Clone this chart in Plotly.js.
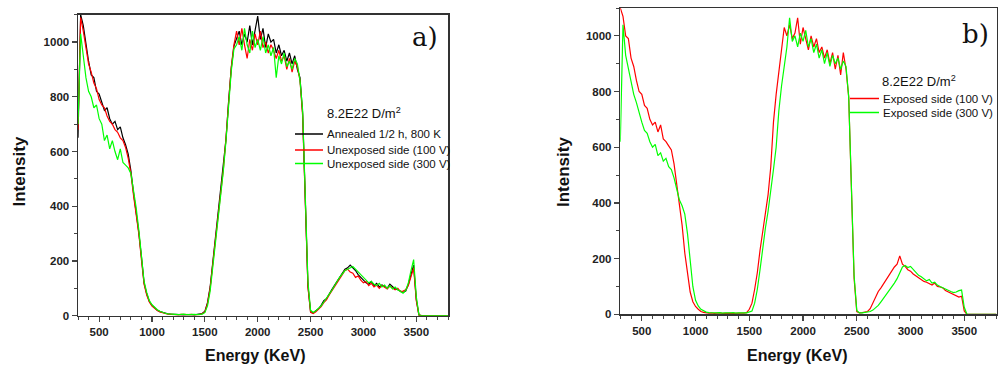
<!DOCTYPE html>
<html>
<head>
<meta charset="utf-8">
<script src="https://cdn.plot.ly/plotly-3.0.1.min.js"></script>
<style>html,body{margin:0;padding:0;background:#fff;}#chart{width:998px;height:369px;}</style>
</head>
<body>
<div id="chart"></div>
<script>
// Energy grid (keV)
const energy = [300,325,350,375,400,425,450,475,500,525,550,575,600,625,650,675,700,725,750,775,800,825,850,875,900,925,950,975,1000,1025,1050,1075,1100,1125,1150,1175,1200,1225,1250,1275,1300,1325,1350,1375,1400,1425,1450,1475,1500,1525,1550,1575,1600,1625,1650,1675,1700,1725,1750,1775,1800,1825,1850,1875,1900,1925,1950,1975,2000,2025,2050,2075,2100,2125,2150,2175,2200,2225,2250,2275,2300,2325,2350,2375,2400,2425,2450,2475,2500,2525,2550,2575,2600,2625,2650,2675,2700,2725,2750,2775,2800,2825,2850,2875,2900,2925,2950,2975,3000,3025,3050,3075,3100,3125,3150,3175,3200,3225,3250,3275,3300,3325,3350,3375,3400,3425,3450,3475,3500,3525,3550,3575,3600,3625,3650,3675,3700,3725,3750,3775,3800];

// Panel a)
const annealed = [
 650,1100,1060,990, 930,880,870,820, 810,780,750,760, 720,700,710,680, 690,650,625,590,
 530,450,385,305, 215,120,80,52, 38,28,20,15, 12,9,7,6, 5,4,5,4, 3,4,5,4,
 3,4,5,8, 16,48,105,195, 285,355,445,535, 645,785,905,985, 1010,1040,990,1030,
 1000,1060,990,1040, 1095,1010,1050,980, 1030,1000,1010,960, 990,950,970,930, 960,920,950,900,
 870,740,380,110, 15,10,18,25, 38,55,62,80, 95,110,125,145, 160,170,175,185,
 175,165,150,140, 130,120,115,125, 110,118,105,112, 108,100,115,105, 98,95,90,85,
 90,115,150,185, 60,2,0,0, 0,0,0,0, 0,0,0,0, 0];
const unexp100 = [
 680,1090,1040,970, 920,890,850,830, 790,770,760,730, 710,700,680,670, 650,640,615,575,
 520,440,375,300, 205,115,75,50, 35,26,19,14, 10,8,6,5, 5,4,3,5, 4,3,4,5,
 3,4,4,7, 14,44,100,190, 280,350,440,535, 650,790,910,990, 1040,990,1050,990,
 940,1010,970,1030, 990,1040,980,1000, 960,990,970,940, 970,930,950,900, 940,890,930,910,
 860,730,370,105, 12,8,14,22, 33,48,58,75, 90,105,120,140, 150,165,170,160,
 155,140,145,130, 120,125,110,118, 105,112,100,110, 105,98,108,100, 95,100,88,90,
 95,110,145,175, 55,2,0,0, 0,0,0,0, 0,0,0,0, 0];
const unexp300 = [
 700,1030,950,870, 820,800,760,770, 720,700,640,660, 610,640,600,570, 610,560,550,540,
 520,465,395,315, 220,125,85,55, 40,30,22,16, 12,9,7,6, 6,5,4,5, 6,4,5,4,
 5,4,5,6, 11,36,90,180, 275,345,435,530, 640,775,895,975, 990,1020,970,1050,
 990,960,1040,980, 1010,970,1020,960, 990,950,980,870, 950,920,960,910, 930,900,940,920,
 860,750,390,125, 20,12,18,26, 36,50,62,78, 92,110,125,140, 155,165,170,175,
 180,170,160,150, 140,130,120,125, 115,110,118,105, 112,100,110,98, 105,95,88,82,
 92,120,165,205, 70,3,0,0, 0,0,0,0, 0,0,0,0, 0];

// Panel b)
const exp100 = [
 1100,1070,1000,990, 920,890,840,800, 790,750,740,700, 680,690,655,680, 630,620,605,590,
 540,470,390,320, 220,150,80,45, 28,18,10,7, 5,4,5,3, 4,5,3,4, 5,4,3,4,
 5,4,4,6, 18,40,90,150, 230,300,370,430, 530,690,790,870, 940,1030,1000,1040,
 990,1010,1065,970, 1030,990,950,1000, 960,990,940,960, 920,950,900,940, 880,930,860,940,
 880,780,450,130, 10,5,6,8, 10,20,40,65, 82,95,110,123, 140,155,170,180,
 210,180,172,160, 155,145,138,130, 125,118,115,110, 105,112,100,98, 95,85,80,75,
 70,68,62,65, 12,0,0,0, 0,0,0,0, 0,0,0,0, 0];
const exp300 = [
 620,1040,930,880, 830,790,760,720, 690,660,650,620, 600,610,570,580, 550,560,530,520,
 490,450,410,390, 360,290,190,100, 50,30,18,12, 8,6,5,4, 5,6,4,5, 4,5,6,4,
 5,4,5,5, 8,12,40,90, 160,240,310,370, 440,520,600,730, 820,890,960,1065,
 980,1000,960,1010, 980,1020,960,990, 940,970,920,950, 900,940,890,930, 900,920,880,910,
 890,780,460,140, 14,5,5,6, 8,10,15,22, 32,45,58,70, 85,100,112,128,
 150,170,175,168, 172,160,150,140, 135,128,120,125, 112,115,105,100, 95,92,88,82,
 78,80,85,87, 25,0,0,0, 0,0,0,0, 0,0,0,0, 0];

const xTickVals = [500,1000,1500,2000,2500,3000,3500];
const yTickVals = [0,200,400,600,800,1000];

const W = 998, H = 369;
const px = v => v / W;
const py = v => 1 - v / H;

const lw = 1.2;
const traces = [
  {x: energy, y: annealed, xaxis:'x', yaxis:'y', mode:'lines', line:{color:'#000000', width:lw}},
  {x: energy, y: unexp100, xaxis:'x', yaxis:'y', mode:'lines', line:{color:'#ff0000', width:lw}},
  {x: energy, y: unexp300, xaxis:'x', yaxis:'y', mode:'lines', line:{color:'#00ff00', width:lw}},
  {x: energy, y: exp100, xaxis:'x2', yaxis:'y2', mode:'lines', line:{color:'#ff0000', width:lw}},
  {x: energy, y: exp300, xaxis:'x2', yaxis:'y2', mode:'lines', line:{color:'#00ff00', width:lw}}
];

const SANS = 'Arial, Liberation Sans, Helvetica, sans-serif';
const tickFont = {family:SANS, size:11.5, weight:'bold', color:'#222'};
function xAxis(dom, anchor){
  return {domain:dom, anchor:anchor, range:[300,3800], tickmode:'array', tickvals:xTickVals,
    ticks:'outside', ticklen:5, tickwidth:1.2, tickcolor:'#444',
    showline:true, linecolor:'#333', linewidth:1.5, mirror:true,
    showgrid:false, zeroline:false, tickfont:tickFont,
    minor:{ticks:'outside', ticklen:3, tickwidth:1, tickcolor:'#444', dtick:100, tick0:0, showgrid:false}};
}
function yAxis(dom, anchor){
  return {domain:dom, anchor:anchor, range:[0,1100], tickmode:'array', tickvals:yTickVals,
    ticks:'outside', ticklen:5, tickwidth:1.2, tickcolor:'#444',
    showline:true, linecolor:'#333', linewidth:1.5, mirror:true,
    showgrid:false, zeroline:false, tickfont:tickFont,
    minor:{ticks:'outside', ticklen:3, tickwidth:1, tickcolor:'#444', dtick:100, tick0:0, showgrid:false}};
}

const titleFont = {family:SANS, weight:'bold', color:'#111'};
const legFont = {family:SANS, size:11.5, color:'#111'};
const legTitleFont = {family:SANS, size:13, color:'#111'};
const panelFont = {family:'DejaVu Serif, serif', size:26, color:'#111'};

function ann(text, x, y, font, extra){
  return Object.assign({text:text, x:px(x), y:py(y), xref:'paper', yref:'paper', showarrow:false,
    font:font, xanchor:'center', yanchor:'middle', borderpad:0}, extra||{});
}
function seg(x0, x1, y, color){
  return {type:'line', xref:'paper', yref:'paper', x0:px(x0), x1:px(x1), y0:py(y), y1:py(y), line:{color:color, width:1.5}};
}

const annotations = [
  ann('Intensity', 18.5, 172, Object.assign({size:17}, titleFont), {textangle:-90}),
  ann('Energy (KeV)', 255, 355, Object.assign({size:16}, titleFont)),
  ann('Intensity', 563, 172, Object.assign({size:17}, titleFont), {textangle:-90}),
  ann('Energy (KeV)', 797, 355, Object.assign({size:16}, titleFont)),
  ann('a)', 425, 37, panelFont),
  ann('b)', 975, 34, panelFont),
  ann('8.2E22 D/m<sup>2</sup>', 326, 113, legTitleFont, {xanchor:'left'}),
  ann('Annealed 1/2 h, 800 K', 326, 134, legFont, {xanchor:'left'}),
  ann('Unexposed side (100 V)', 326, 150, legFont, {xanchor:'left'}),
  ann('Unexposed side (300 V)', 326, 163.5, legFont, {xanchor:'left'}),
  ann('8.2E22 D/m<sup>2</sup>', 881, 81, legTitleFont, {xanchor:'left'}),
  ann('Exposed side (100 V)', 882, 98.5, legFont, {xanchor:'left'}),
  ann('Exposed side (300 V)', 882, 112.5, legFont, {xanchor:'left'})
];
const shapes = [
  seg(295, 323, 134, '#000000'),
  seg(295, 323, 150, '#ff0000'),
  seg(295, 323, 163.5, '#00ff00'),
  seg(850, 879, 98.5, '#ff0000'),
  seg(850, 879, 112.5, '#00ff00')
];

const layout = {
  width:W, height:H, margin:{l:0, r:0, t:0, b:0},
  paper_bgcolor:'#ffffff', plot_bgcolor:'#ffffff', showlegend:false,
  xaxis: xAxis([px(78), px(448)], 'y'),
  yaxis: yAxis([py(315.7), py(14.7)], 'x'),
  xaxis2: xAxis([px(620.3), px(996.5)], 'y2'),
  yaxis2: yAxis([py(314.3), py(8)], 'x2'),
  annotations: annotations,
  shapes: shapes
};

Plotly.newPlot('chart', traces, layout, {displayModeBar:false, staticPlot:true});
</script>
</body>
</html>
